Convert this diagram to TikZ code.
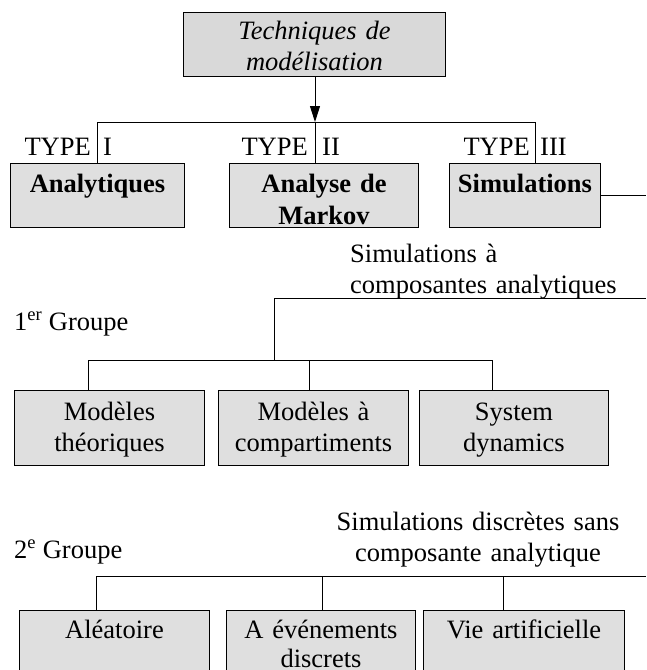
\documentclass[tikz,border=0pt]{standalone}
\usepackage{fontspec}
\setmainfont{Liberation Serif}
\usetikzlibrary{arrows.meta}
\tikzset{
  txt/.style={inner sep=0pt, font=\fontsize{26.5}{31}\selectfont},
  box/.style={txt, draw, fill=gray!25, line width=1pt, align=center, anchor=base west},
  rowA/.style={box, text height=29pt, text depth=35pt, font=\fontsize{26.5}{32}\selectfont\bfseries},
  rowB/.style={box, text height=30pt, text depth=45pt},
  link/.style={line width=1pt}
}
\begin{document}
\begin{tikzpicture}[x=1pt,y=-1pt]
\clip[use as bounding box] (0,0) rectangle (646,670);
\coordinate (edge) at (646,0);

% Top box
\node[box, fill=gray!30, text width=262pt, text height=27pt, text depth=37pt,
  font=\fontsize{26.5}{31}\selectfont\itshape] (tech) at (183,39) {Techniques de\\modélisation};

% Type I, II, III
\node[rowA, text width=174pt] (analyt) at (10,192) {Analytiques};
\node[rowA, text width=189pt] (markov) at (229,192) {Analyse de\\Markov};
\node[rowA, text width=151pt] (simul) at (449,192) {Simulations};

\coordinate (bI) at (97,122);
\coordinate (bII) at (315,122);
\coordinate (bIII) at (535,122);
\draw[link,-{Triangle[length=16pt,width=10pt]}] (tech.south -| bII) -- (bII);
\draw[link] (bI) -- (bIII);
\draw[link] (bI) -- (bI |- analyt.north);
\draw[link] (bII) -- (bII |- markov.north);
\draw[link] (bIII) -- (bIII |- simul.north);
\draw[link] (simul.east) -- (simul.east -| edge);

\node[txt, anchor=base east] (tyI) at (91,155) {TYPE};
\node[txt, anchor=base west] (nI) at (103,155) {I};
\node[txt, anchor=base east] (tyII) at (308,155) {TYPE};
\node[txt, anchor=base west] (nII) at (322,155) {II};
\node[txt, anchor=base east] (tyIII) at (530,155) {TYPE};
\node[txt, anchor=base west] (nIII) at (540,155) {III};

% 1er Groupe
\node[txt, text width=300pt, align=left, anchor=base west] (anal) at (350,262)
  {Simulations à\\composantes analytiques};
\node[txt, anchor=base west] (grpI) at (14,330) {1\textsuperscript{er} Groupe};

\node[rowB, text width=190pt] (theo) at (14,420) {Modèles\\théoriques};
\node[rowB, text width=190pt] (compt) at (218,420) {Modèles à\\compartiments};
\node[rowB, text width=189pt] (sysd) at (419,420) {System\\dynamics};

\coordinate (g1) at (274,298);
\coordinate (h1a) at (88,360);
\coordinate (h1b) at (309,360);
\coordinate (h1c) at (492,360);
\draw[link] (g1) -- (g1 -| edge);
\draw[link] (g1) -- (g1 |- h1a);
\draw[link] (h1a) -- (h1c);
\draw[link] (h1a) -- (h1a |- theo.north);
\draw[link] (h1b) -- (h1b |- compt.north);
\draw[link] (h1c) -- (h1c |- sysd.north);

% 2e Groupe
\node[txt, text width=320pt, align=center, anchor=base] (disc) at (478,530)
  {Simulations discrètes sans\\composante analytique};
\node[txt, anchor=base west] (grpII) at (14,558) {2\textsuperscript{e} Groupe};

\node[rowB, text width=190pt, text height=28pt, font=\fontsize{26.5}{29}\selectfont] (alea) at (19,638) {Aléatoire};
\node[rowB, text width=189pt, text height=28pt, font=\fontsize{26.5}{29}\selectfont] (event) at (226,638) {A événements\\discrets};
\node[rowB, text width=201pt, text height=28pt, font=\fontsize{26.5}{29}\selectfont] (vie) at (423,638) {Vie artificielle};

\coordinate (h2a) at (96,576);
\coordinate (h2b) at (322,576);
\coordinate (h2c) at (503,576);
\draw[link] (h2a) -- (h2a -| edge);
\draw[link] (h2a) -- (h2a |- alea.north);
\draw[link] (h2b) -- (h2b |- event.north);
\draw[link] (h2c) -- (h2c |- vie.north);
\end{tikzpicture}
\end{document}
